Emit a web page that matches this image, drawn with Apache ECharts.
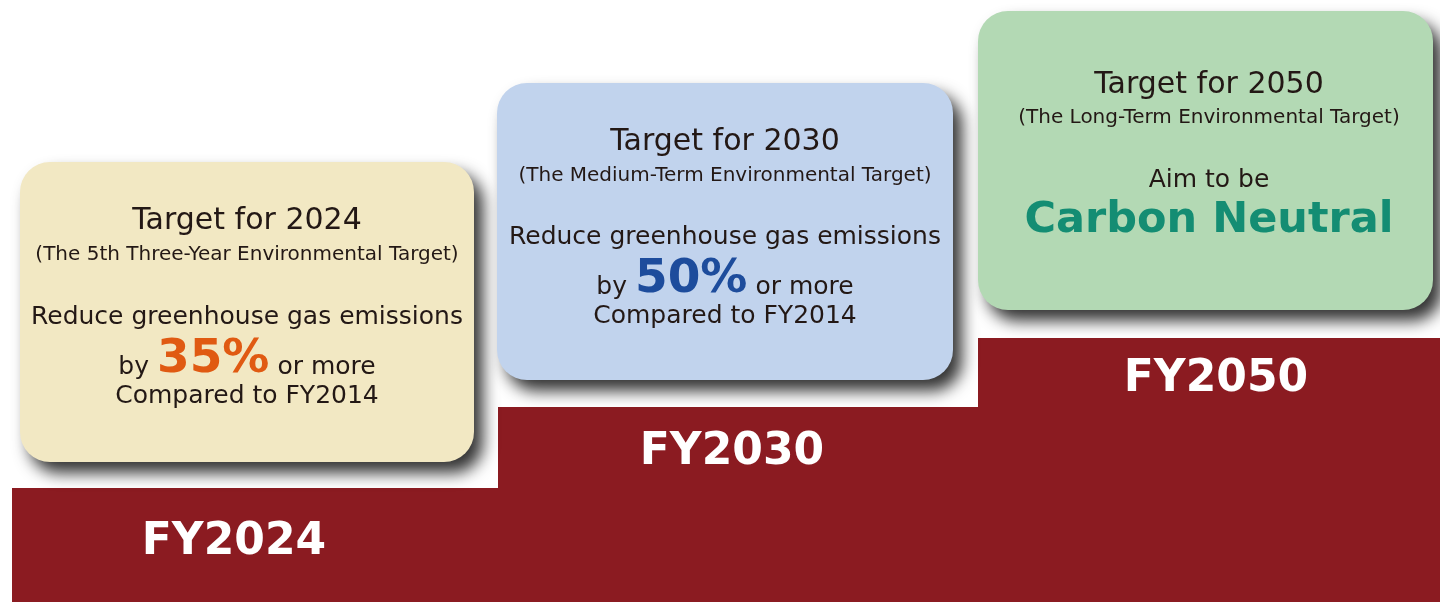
<!DOCTYPE html>
<html><head><meta charset="utf-8">
<script src="https://cdn.jsdelivr.net/npm/echarts@6/dist/echarts.min.js"></script>
<style>html,body{margin:0;padding:0;background:#fff}#c{width:1440px;height:602px}</style>
</head><body><div id="c"></div>
<script>
// Step data (x extent along the timeline and step height)
const stepLabels = ['FY2024', 'FY2030', 'FY2050'];
const stepStart = [12, 498, 978];
const stepEnd = [498, 978, 1440];
const stepHeight = [114, 195, 264];

// Target box texts
const boxTitles = ['Target for 2024', 'Target for 2030', 'Target for 2050'];
const boxSubtitles = ['(The 5th Three-Year Environmental Target)', '(The Medium-Term Environmental Target)', '(The Long-Term Environmental Target)'];
const boxLine1 = ['Reduce greenhouse gas emissions', 'Reduce greenhouse gas emissions', 'Aim to be'];
const boxHighlight = ['35%', '50%', 'Carbon Neutral'];
const boxLine3 = ['Compared to FY2014', 'Compared to FY2014', ''];

const FONT = '"DejaVu Sans", Verdana, sans-serif';
const boxFill = ['#f2e8c3', '#c1d3ed', '#b3d9b4'];
const hlColor = ['#e05a12', '#1d4c9c', '#148d73'];
const boxes = [
  {x: 20, y: 162, w: 454, h: 300, cx: 247, ty: [221, 255, 317, 360, 396]},
  {x: 497, y: 83, w: 456, h: 297, cx: 725, ty: [142, 176, 237, 280, 316]},
  {x: 978, y: 11, w: 455, h: 299, cx: 1209, ty: [85, 118, 180, 221, 0]}
];

const graphics = [];
boxes.forEach((b, i) => {
  graphics.push({
    type: 'rect', z: 10,
    shape: {x: b.x, y: b.y, width: b.w, height: b.h, r: 30},
    style: {fill: boxFill[i], shadowBlur: 16, shadowOffsetX: 9, shadowOffsetY: 11, shadowColor: 'rgba(0,0,0,0.8)'}
  });
  const t = (txt, y, size, color, weight) => graphics.push({
    type: 'text', z: 11, x: b.cx, y: y,
    style: {text: txt, x: 0, y: 0, align: 'center', verticalAlign: 'middle', fill: color, font: (weight || 'normal') + ' ' + size + 'px ' + FONT}
  });
  t(boxTitles[i], b.ty[0], 30, '#231815');
  t(boxSubtitles[i], b.ty[1], 20, '#231815');
  t(boxLine1[i], b.ty[2], 25, '#231815');
  if (i < 2) {
    graphics.push({
      type: 'text', z: 11, x: b.cx, y: b.ty[3],
      style: {
        text: '{a|by }{b|' + boxHighlight[i] + '}{a| or more}', x: 0, y: 0, align: 'center', verticalAlign: 'middle',
        rich: {
          a: {font: 'normal 25px ' + FONT, fill: '#231815', verticalAlign: 'bottom', padding: [0, 0, 4, 0]},
          b: {font: 'bold 47px ' + FONT, fill: hlColor[i], verticalAlign: 'bottom'}
        }
      }
    });
    t(boxLine3[i], b.ty[4], 25, '#231815');
  } else {
    t(boxHighlight[i], b.ty[3], 43, hlColor[i], 'bold');
  }
});

const chart = echarts.init(document.getElementById('c'), null, {renderer: 'canvas'});
chart.setOption({
  animation: false,
  grid: {left: 0, right: 0, top: 0, bottom: 0},
  xAxis: {type: 'value', min: 0, max: 1440, show: false},
  yAxis: {type: 'value', min: 0, max: 602, show: false},
  series: [{
    type: 'custom',
    data: stepLabels.map((l, i) => [stepStart[i], stepEnd[i], stepHeight[i], l]),
    renderItem: function (params, api) {
      const p0 = api.coord([api.value(0), api.value(2)]);
      const p1 = api.coord([api.value(1), 0]);
      const i = params.dataIndex;
      const labelDx = [-21, -6, 7][i];
      const labelDy = [55, 46, 42][i];
      return {
        type: 'group',
        children: [
          {type: 'rect', shape: {x: p0[0], y: p0[1], width: p1[0] - p0[0], height: p1[1] - p0[1]}, style: {fill: '#8b1b21'}},
          {type: 'text', style: {text: stepLabels[i], x: (p0[0] + p1[0]) / 2 + labelDx, y: p0[1] + labelDy, align: 'center', verticalAlign: 'middle', fill: '#ffffff', font: 'bold 44px ' + FONT}}
        ]
      };
    }
  }],
  graphic: graphics
});
</script></body></html>
